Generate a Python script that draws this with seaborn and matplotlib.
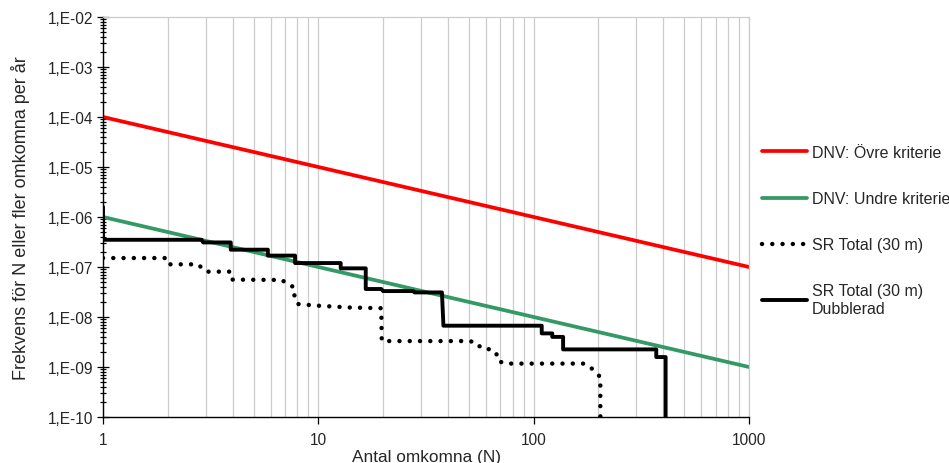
import numpy as np
import pandas as pd
import matplotlib
matplotlib.use("Agg")
import matplotlib.pyplot as plt
import matplotlib.ticker as mticker
import seaborn as sns

sns.set_theme(style="white")
plt.rcParams["font.family"] = ["Liberation Sans", "DejaVu Sans"]

# DNV criteria lines
crit_n = [1, 1000]
ovre_f = [1e-4, 1e-7]
undre_f = [1e-6, 1e-9]

# SR Total (30 m)
sr_n = [1, 2, 2.05, 2.77, 2.92, 3.0, 3.92, 3.98, 6.8, 7.2, 7.7, 7.75, 8.0,
        9.8, 14, 19.6, 19.7, 50, 54.4, 57, 63, 67, 68, 73.6, 172, 183, 194,
        204, 204]
sr_f = [1.51e-7, 1.51e-7, 1.13e-7, 1.13e-7, 8.9e-8, 8.07e-8, 8.07e-8, 5.6e-8,
        5.5e-8, 4.4e-8, 4.0e-8, 2.6e-8, 1.82e-8, 1.69e-8, 1.55e-8, 1.5e-8,
        3.3e-9, 3.3e-9, 3.1e-9, 2.36e-9, 2.25e-9, 1.97e-9, 1.34e-9, 1.17e-9,
        1.17e-9, 9.85e-10, 8.1e-10, 6.2e-10, 1e-11]

# SR Total (30 m) Dubblerad
dub_n = [1, 1, 2.87, 2.92, 3.92, 3.92, 5.83, 5.83, 7.8, 7.8, 12.7, 12.7,
         16.6, 16.6, 19.6, 20, 27.6, 28, 37.5, 38.1, 109, 109, 122, 122,
         137, 137, 371, 371, 410, 410]
dub_f = [1.6e-6, 3.5e-7, 3.5e-7, 3.1e-7, 3.1e-7, 2.22e-7, 2.22e-7, 1.69e-7,
         1.69e-7, 1.2e-7, 1.2e-7, 9.4e-8, 9.4e-8, 3.63e-8, 3.63e-8, 3.3e-8,
         3.3e-8, 3.1e-8, 3.1e-8, 6.7e-9, 6.7e-9, 4.7e-9, 4.7e-9, 4.0e-9,
         4.0e-9, 2.25e-9, 2.25e-9, 1.58e-9, 1.58e-9, 1e-11]

x_ticks = [1, 10, 100, 1000]
x_tick_labels = ["1", "10", "100", "1000"]
y_ticks = [1e-10, 1e-9, 1e-8, 1e-7, 1e-6, 1e-5, 1e-4, 1e-3, 1e-2]
y_tick_labels = ["1,E-10", "1,E-09", "1,E-08", "1,E-07", "1,E-06",
                 "1,E-05", "1,E-04", "1,E-03", "1,E-02"]

fig = plt.figure(figsize=(9.49, 4.64), dpi=100)
ax = fig.add_axes([103 / 949, 1 - 418 / 464, (749 - 103) / 949, 400 / 464])
ax.set_xscale("log")
ax.set_yscale("log")

sns.lineplot(x=crit_n, y=ovre_f, ax=ax, color="#ff0000", linewidth=2.7,
             sort=False, estimator=None, label="DNV: Övre kriterie")
sns.lineplot(x=crit_n, y=undre_f, ax=ax, color="#339966", linewidth=2.7,
             sort=False, estimator=None, label="DNV: Undre kriterie")
sns.lineplot(x=sr_n, y=sr_f, ax=ax, color="black", linewidth=3.2,
             linestyle=(0, (0.01, 2.3)), dash_capstyle="round",
             sort=False, estimator=None, label="SR Total (30 m)")
sns.lineplot(x=dub_n, y=dub_f, ax=ax, color="black", linewidth=2.8,
             sort=False, estimator=None, label="SR Total (30 m)\nDubblerad")

ax.set_xlim(1, 1000)
ax.set_ylim(1e-10, 1e-2)

ax.set_xticks(x_ticks)
ax.set_xticklabels(x_tick_labels)
ax.xaxis.set_minor_locator(mticker.LogLocator(base=10, subs=range(2, 10), numticks=100))
ax.xaxis.set_minor_formatter(mticker.NullFormatter())
ax.set_yticks(y_ticks)
ax.set_yticklabels(y_tick_labels)
ax.yaxis.set_minor_locator(mticker.LogLocator(base=10, subs=range(2, 10), numticks=100))
ax.yaxis.set_minor_formatter(mticker.NullFormatter())

ax.set_axisbelow(True)
ax.grid(True, which="both", axis="x", color="#cccccc", linewidth=0.9)
ax.grid(False, axis="y")

ax.tick_params(axis="x", which="major", direction="out", length=5, width=0.9,
               color="black", labelsize=11.2, pad=6, bottom=True)
ax.tick_params(axis="x", which="minor", length=0)
ax.tick_params(axis="y", which="major", direction="inout", length=8, width=0.9,
               color="black", labelsize=11.2, pad=3, left=True)
ax.tick_params(axis="y", which="minor", direction="inout", length=5, width=0.9,
               color="black", left=True)

for side in ["left", "bottom"]:
    ax.spines[side].set_color("black")
    ax.spines[side].set_linewidth(1.0)
for side in ["top", "right"]:
    ax.spines[side].set_color("#cccccc")
    ax.spines[side].set_linewidth(0.9)

ax.set_xlabel("Antal omkomna (N)", fontsize=12.4, labelpad=1)
ax.set_ylabel("Frekvens för N eller fler omkomna per år", fontsize=13, labelpad=13)

ax.legend(loc="upper left", bbox_to_anchor=(762 / 949, 1 - 146 / 464),
          bbox_transform=fig.transFigure, frameon=False, fontsize=11.5,
          handlelength=2.8, handletextpad=0.3, labelspacing=1.95,
          borderaxespad=0, borderpad=0)

fig.savefig("out.png", dpi=100)
